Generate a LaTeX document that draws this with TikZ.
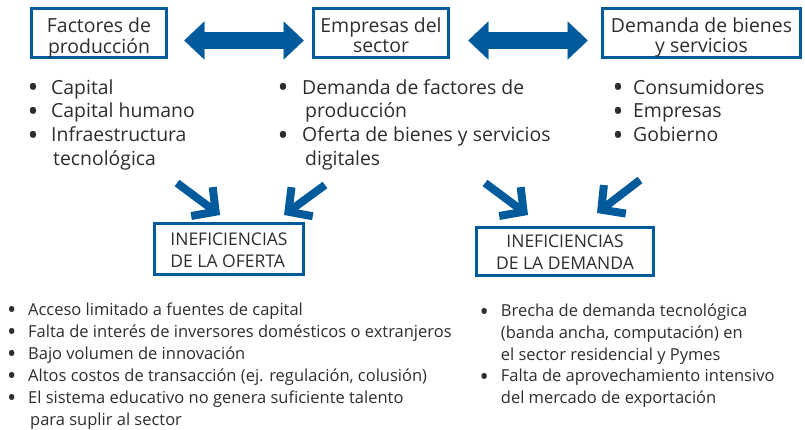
\documentclass[tikz,border=0pt]{standalone}
\usepackage{fontspec}
\setmainfont{Open Sans}
\usetikzlibrary{arrows.meta}
\definecolor{cblue}{RGB}{0,90,156}
\definecolor{ctext}{RGB}{45,45,45}
\newcommand{\bul}[1]{\llap{\smash{\raisebox{-0.2em}{\scalebox{1.5}{\textbullet}}}\hspace{#1}}}
\begin{document}
\begin{tikzpicture}[x=1pt,y=-1pt,
  topbox/.style={draw=cblue, line width=2.6pt, inner sep=0pt, minimum width=#1,
    text height=23.7pt, text depth=25.7pt, anchor=base, text=ctext,
    font=\fontsize{19.4}{20.5}\selectfont},
  inefbox/.style={draw=cblue, line width=2.6pt, inner sep=0pt, minimum width=#1,
    anchor=base, text=ctext, font=\fontsize{17.5}{22}\selectfont},
  toplist/.style={anchor=base west, inner sep=0pt, text=ctext,
    font=\fontsize{19.4}{23.7}\selectfont},
  botlist/.style={anchor=base west, inner sep=0pt, text=ctext,
    font=\fontsize{16.5}{22}\selectfont},
  dblarrow/.style={draw=cblue, line width=17pt,
    {Triangle[length=20pt,width=38pt,line width=0.1pt]}-{Triangle[length=20pt,width=38pt,line width=0.1pt]}},
  diagarrow/.style={draw=cblue, line width=8pt, line join=miter,
    -{Straight Barb[length=17pt,width=36pt]}}
]
\path[use as bounding box] (0,0) rectangle (805,429);

% top boxes
\node[topbox=135.4pt] (fac) at (99,32) {\begin{tabular}[t]{@{}c@{}}Factores de\\producción\end{tabular}};
\node[topbox=135.4pt] (emp) at (381,32) {\begin{tabular}[t]{@{}c@{}}Empresas del\\sector\end{tabular}};
\node[topbox=198.4pt] (dem) at (701.5,32) {\begin{tabular}[t]{@{}c@{}}Demanda de bienes\\y servicios\end{tabular}};

% double arrows
\draw[dblarrow] ([shift={(16.3,7.5)}]fac.east) -- ([shift={(-8.3,7.5)}]emp.west);
\draw[dblarrow] ([shift={(18.3,7.5)}]emp.east) -- ([shift={(-13.3,7.5)}]dem.west);

% top lists
\node[toplist] (lfac) at (51,94) {\begin{tabular}[t]{@{}l@{}}
\bul{12.6pt}Capital\\
\bul{12.6pt}Capital humano\\
\bul{12.6pt}Infraestructura\\
\hspace{2pt}tecnológica\end{tabular}};
\node[toplist] (lemp) at (302,94) {\begin{tabular}[t]{@{}l@{}}
\bul{13.6pt}Demanda de factores de\\
\hspace{3pt}producción\\
\bul{13.6pt}Oferta de bienes y servicios\\
\hspace{3pt}digitales\end{tabular}};
\node[toplist] (ldem) at (633,94) {\begin{tabular}[t]{@{}l@{}}
\bul{9.6pt}Consumidores\\
\bul{9.6pt}Empresas\\
\bul{9.6pt}Gobierno\end{tabular}};

% inefficiency boxes
\node[inefbox=149.4pt, text height=21.7pt, text depth=29.7pt] (iof) at (229,245)
  {\begin{tabular}[t]{@{}l@{}}INEFICIENCIAS\\DE LA OFERTA\end{tabular}};
\node[inefbox=177.4pt, text height=20pt, text depth=28.4pt] (ide) at (565,247.3)
  {\begin{tabular}[t]{@{}c@{}}INEFICIENCIAS\\DE LA DEMANDA\end{tabular}};

% diagonal arrows
\coordinate (sa) at (177,183);
\coordinate (sb) at (325,185);
\coordinate (sc) at (485,183);
\coordinate (sd) at (640,180);
\draw[diagarrow] (sa) -- ([shift={(-9,-7)}]iof.north);
\draw[diagarrow] (sb) -- ([shift={(55,-7)}]iof.north);
\draw[diagarrow] (sc) -- ([shift={(-37,-11)}]ide.north);
\draw[diagarrow] (sd) -- ([shift={(32,-13)}]ide.north);

% bottom lists
\node[botlist] (lof) at (28,315.5) {\begin{tabular}[t]{@{}l@{}}
\bul{11.7pt}Acceso limitado a fuentes de capital\\
\bul{11.7pt}Falta de interés de inversores domésticos o extranjeros\\
\bul{11.7pt}Bajo volumen de innovación\\
\bul{11.7pt}Altos costos de transacción (ej. regulación, colusión)\\
\bul{11.7pt}El sistema educativo no genera suficiente talento\\
\hspace{2pt}para suplir al sector\end{tabular}};
\node[botlist, font=\fontsize{16.5}{21.7}\selectfont] (lde) at (500.7,316.7) {\begin{tabular}[t]{@{}l@{}}
\bul{12.1pt}Brecha de demanda tecnológica\\
(banda ancha, computación) en\\
el sector residencial y Pymes\\
\bul{12.1pt}Falta de aprovechamiento intensivo\\
del mercado de exportación\end{tabular}};
\end{tikzpicture}
\end{document}
